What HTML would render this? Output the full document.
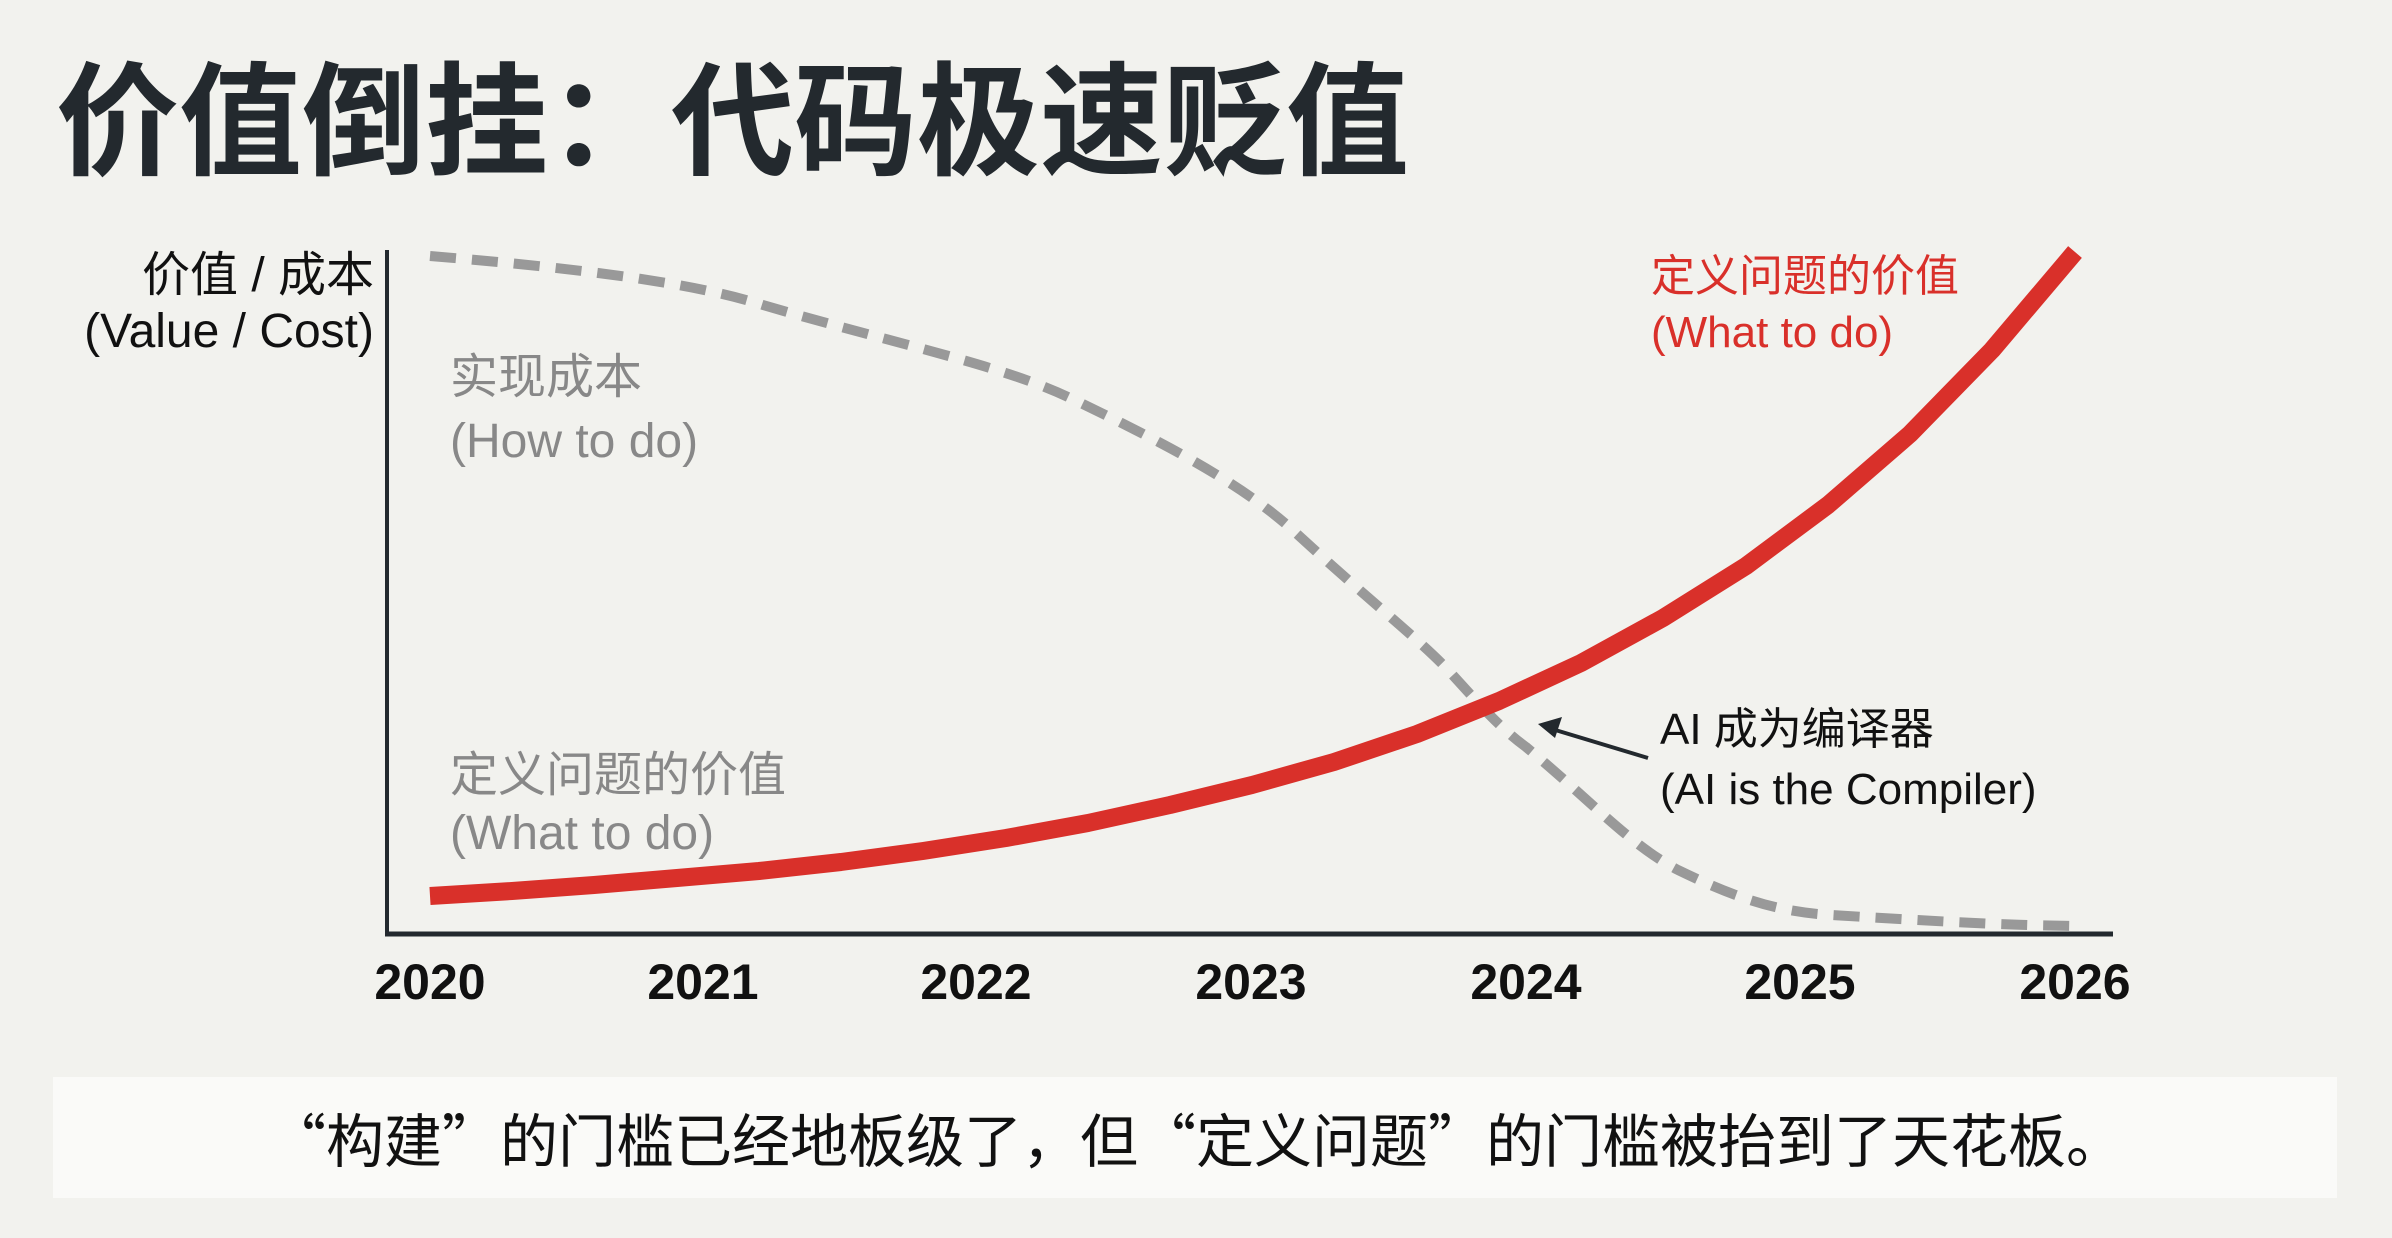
<!DOCTYPE html>
<html><head><meta charset="utf-8"><style>
html,body{margin:0;padding:0;}
body{width:2392px;height:1238px;background:#f2f2ee;overflow:hidden;position:relative;font-family:"Liberation Sans","Noto Sans CJK SC",sans-serif;}
.t{position:absolute;white-space:nowrap;}
</style></head><body>
<div class="t" style="left:56px;top:40px;font-size:123px;font-weight:bold;color:#23292e;line-height:144px;font-family:'Noto Sans CJK SC',sans-serif;">价值倒挂：代码极速贬值</div>
<svg width="2392" height="1238" style="position:absolute;left:0;top:0">
<line x1="387" y1="250" x2="387" y2="936" stroke="#23292e" stroke-width="4"/>
<line x1="385" y1="934" x2="2113" y2="934" stroke="#23292e" stroke-width="5"/>
<path d="M430,256 C600,270 700,285 763,305 C900,345 1000,365 1068,397 C1180,450 1250,490 1297,534 C1380,610 1420,640 1449,671 C1480,705 1500,728 1526,747 C1590,800 1630,845 1678,870 C1740,900 1780,912 1831,915 C1950,922 2000,925 2075,926" fill="none" stroke="#999" stroke-width="10" stroke-dasharray="26,16"/>
<polyline points="430,896 512,891 594,885 677,878 759,871 841,862 923,851 1006,838 1088,823 1170,805 1252,785 1334,762 1417,734 1499,701 1581,663 1663,618 1746,566 1828,505 1910,434 1992,350 2075,252" fill="none" stroke="#d9302a" stroke-width="18" stroke-linejoin="round"/>
<line x1="1648" y1="758" x2="1552" y2="729" stroke="#23292e" stroke-width="4"/>
<polygon points="1538,724 1562,717 1555,738" fill="#23292e"/>
<g font-family="Liberation Sans, sans-serif" font-weight="bold" font-size="50" fill="#111" text-anchor="middle">
<text x="430" y="999">2020</text><text x="703" y="999">2021</text><text x="976" y="999">2022</text><text x="1251" y="999">2023</text><text x="1526" y="999">2024</text><text x="1800" y="999">2025</text><text x="2075" y="999">2026</text>
</g>
</svg>
<div class="t" style="right:2018px;top:248px;font-size:48px;line-height:56px;color:#111;text-align:right;">价值 / 成本<br>(Value / Cost)</div>
<div class="t" style="left:450px;top:346px;font-size:48px;line-height:64px;color:#888;">实现成本<br>(How to do)</div>
<div class="t" style="left:450px;top:747px;font-size:48px;line-height:58px;color:#888;">定义问题的价值<br>(What to do)</div>
<div class="t" style="left:1651px;top:249px;font-size:44px;line-height:56px;color:#d9302a;">定义问题的价值<br>(What to do)</div>
<div class="t" style="left:1660px;top:700px;font-size:44px;line-height:60px;color:#111;">AI 成为编译器<br>(AI is the Compiler)</div>
<div style="position:absolute;left:53px;top:1077px;width:2284px;height:121px;background:#fafaf8;"></div>
<div class="t" style="left:0;width:2392px;text-align:center;top:1104px;font-size:58px;line-height:66px;color:#111;font-family:'Noto Sans CJK SC',sans-serif;">“构建”的门槛已经地板级了，但“定义问题”的门槛被抬到了天花板。</div>
</body></html>
